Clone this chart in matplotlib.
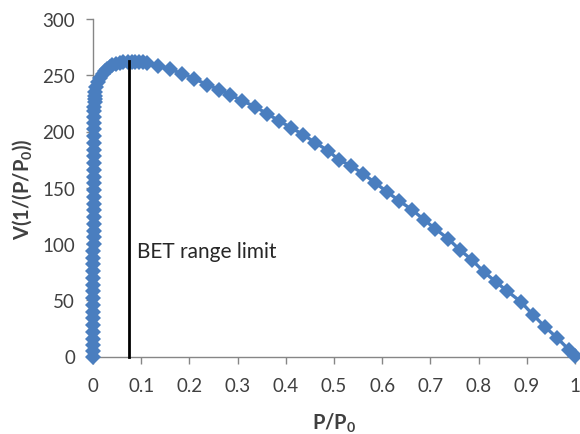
import matplotlib
matplotlib.use("Agg")
import matplotlib.pyplot as plt

# column of points near P/P0 = 0
col_x = [0.0002, 0.0003, 0.0003, 0.0004, 0.0004, 0.0005, 0.0005, 0.0006, 0.0006, 0.0007,
         0.0007, 0.0008, 0.0008, 0.0009, 0.0009, 0.0010, 0.0010, 0.0011, 0.0011, 0.0012,
         0.0012, 0.0013, 0.0013, 0.0014, 0.0014, 0.0015, 0.0016, 0.0017, 0.0018, 0.0019,
         0.0020, 0.0021, 0.0022, 0.0023, 0.0024, 0.0025, 0.0027, 0.0029, 0.0031, 0.0034,
         0.0037, 0.0040, 0.0045]
col_y = [0, 5, 10, 16, 22, 28, 34, 40, 46, 52,
         58, 64, 70, 76, 82, 88, 94, 100, 106, 112,
         118, 124, 130, 136, 142, 148, 154, 160, 166, 172,
         178, 184, 190, 196, 202, 208, 213, 218, 222, 226,
         229, 232, 235]

# rest of the curve
rest_x = [0.006, 0.010, 0.015, 0.020, 0.025, 0.030, 0.035, 0.040, 0.047, 0.055,
          0.063, 0.072, 0.080, 0.088, 0.096, 0.104, 0.112, 0.135, 0.160, 0.185,
          0.2095, 0.2365, 0.261, 0.284, 0.309, 0.336, 0.361, 0.386, 0.411, 0.436,
          0.461, 0.488, 0.510, 0.535, 0.560, 0.585, 0.610, 0.635, 0.662, 0.687,
          0.710, 0.737, 0.761, 0.786, 0.811, 0.836, 0.859, 0.888, 0.913, 0.938,
          0.963, 0.988, 1.000]
rest_y = [240, 244, 248, 251, 254, 256, 257.5, 259, 260, 261,
          261.5, 262, 262, 262, 262, 261.5, 261, 258.6, 255.3, 251.5,
          247.0, 241.7, 237.2, 232.8, 227.4, 222.1, 215.9, 209.5, 203.4, 197.2,
          190.1, 182.9, 174.9, 169.6, 162.5, 154.5, 146.4, 138.4, 130.4, 121.5,
          113.5, 104.6, 94.8, 85.9, 75.2, 66.3, 58.3, 48.5, 37.0, 26.3,
          16.5, 5.8, 0.4]

bet_x = 0.075
bet_top = 263
bet_label = "BET range limit"

x_ticks = [0, 0.1, 0.2, 0.3, 0.4, 0.5, 0.6, 0.7, 0.8, 0.9, 1]
x_tick_labels = ["0", "0.1", "0.2", "0.3", "0.4", "0.5", "0.6", "0.7", "0.8", "0.9", "1"]
y_ticks = [0, 50, 100, 150, 200, 250, 300]

plt.rcParams['font.family'] = ['Lato', 'DejaVu Sans']
plt.rcParams['mathtext.fontset'] = 'custom'
plt.rcParams['mathtext.rm'] = 'Lato'
plt.rcParams['mathtext.bf'] = 'Lato:bold'

fig = plt.figure(figsize=(5.8, 4.35), dpi=100)
ax = fig.add_axes([93/580, 1 - 357.5/435, (575 - 93)/580, (357.5 - 20)/435])

xs = col_x + rest_x
ys = col_y + rest_y
blue = "#4A7EBF"
ax.plot(xs, ys, color=blue, lw=2.4, marker="D", markersize=8.5,
        markeredgewidth=0, clip_on=False, zorder=3)

ax.plot([bet_x, bet_x], [0, bet_top], color="black", lw=2, zorder=4, clip_on=False)
ax.text(0.092, 94, bet_label, fontsize=15, color="#262626", va="center", ha="left")

ax.set_xlim(0, 1)
ax.set_ylim(0, 300)
ax.set_xticks(x_ticks)
ax.set_xticklabels(x_tick_labels)
ax.set_yticks(y_ticks)

for s in ["top", "right"]:
    ax.spines[s].set_visible(False)
for s in ["left", "bottom"]:
    ax.spines[s].set_color("#868686")
    ax.spines[s].set_linewidth(1)
ax.tick_params(axis="both", direction="out", width=1, color="#868686",
               labelsize=13.5, labelcolor="#404040")
ax.tick_params(axis="x", length=5, pad=10)
ax.tick_params(axis="y", length=5, pad=8)

ax.set_xlabel("P/P$_\\mathbf{0}$", fontsize=14.5, fontweight="bold", color="#404040", labelpad=12)
ax.set_ylabel("V(1/(P/P$_\\mathbf{0}$))", fontsize=14.5, fontweight="bold", color="#404040", labelpad=6)

fig.savefig("out.png", dpi=100)
